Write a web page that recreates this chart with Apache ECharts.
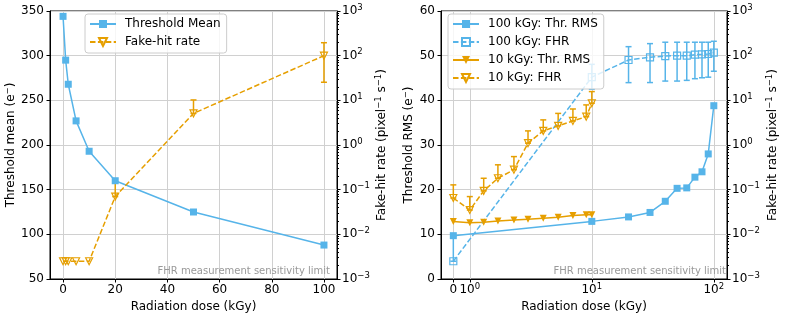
<!DOCTYPE html>
<html><head><meta charset="utf-8">
<script src="https://cdn.jsdelivr.net/npm/echarts@6/dist/echarts.min.js"></script>
<style>html,body{margin:0;padding:0;background:#fff}#c{width:785px;height:319px}</style>
</head><body><div id="c"></div>
<script>
// ---------- Left panel data ----------
const doseL      = [0, 1, 2, 5, 10, 20, 50, 100];
const thrMean    = [344, 295, 268, 227, 193, 160, 125, 88];
const fhrL       = [0.0025, 0.0025, 0.0025, 0.0025, 0.0025, 0.070, 5.1, 100];
const fhrLLo     = [null, null, null, null, null, 0.070, 5.1, 25.4];
const fhrLUp     = [null, null, null, null, null, 0.15, 10.2, 195];
const xTicksL    = [0, 20, 40, 60, 80, 100];

// ---------- Right panel data ----------
const dose100    = [0, 10, 20, 30, 40, 50, 60, 70, 80, 90, 100];
const thrRms100  = [9.7, 12.9, 13.9, 14.9, 17.4, 20.3, 20.4, 22.8, 24.0, 28.0, 38.8];
const fhr100     = [0.0025, 33, 80, 92, 98, 100, 100, 105, 107, 109, 117];
const fhr100Lo   = [0.0025, 17.7, 24.9, 25, 27, 27, 28, 30.5, 32, 33, 44.8];
const fhr100Up   = [0.0092, 64, 159, 186, 200, 200, 200, 200, 200, 200, 210];

const dose10     = [0, 1, 1.3, 1.7, 2.3, 3, 4, 5.3, 7, 9, 10];
const thrRms10   = [12.9, 12.6, 12.7, 13.0, 13.2, 13.4, 13.6, 13.8, 14.2, 14.4, 14.4];
const fhr10      = [0.065, 0.035, 0.094, 0.18, 0.28, 1.1, 2.07, 2.68, 3.46, 4.3, 8.6];
const fhr10Up    = [0.128, 0.070, 0.18, 0.36, 0.55, 2.07, 3.65, 5.1, 6.4, 7.9, 15.7];

const xTicksR    = [0, 1, 10, 100];
const xTickTextR = ['0', '10^0', '10^1', '10^2'];
const fhrLimit   = 0.0025;

// ---------- helpers ----------
const FONT = 'DejaVu Sans';
const BLUE = '#56B4E9', ORANGE = '#E69F00';
const LIN = 0.135;                    // symlog: linear part width (in decades), linthresh = 1
function symlog(d) { return d < 1 ? d * LIN : LIN + Math.log10(d); }

const minorLog = [];
for (let k = -3; k < 3; k++) for (let m = 2; m <= 9; m++) minorLog.push(k + Math.log10(m));

const rich = {
  b: {fontFamily: FONT, fontSize: 12, lineHeight: 16, color: '#000'},
  s: {fontFamily: FONT, fontSize: 8.5, lineHeight: 9, verticalAlign: 'top', color: '#000'}
};
function texLabel(t) {
  const p = t.split('^');
  return p.length > 1 ? '{b|' + p[0] + '}{s|' + p[1].replace('-', '\u2212') + '}' : '{b|' + t + '}';
}
function logLabel(v) {
  const e = Math.round(Math.log10(v));
  return texLabel('10^' + e);
}
function errSeries(data, color, xi, yi) {
  return {
    type: 'custom', xAxisIndex: xi, yAxisIndex: yi, data: data, z: 3,
    encode: {x: 0, y: [1, 2]},
    renderItem: function (params, api) {
      const x = api.value(0), lo = api.value(1), hi = api.value(2);
      const a = api.coord([x, lo]), b = api.coord([x, hi]);
      const c = 3, st = {stroke: color, lineWidth: 1.5};
      return {type: 'group', children: [
        {type: 'line', shape: {x1: a[0], y1: a[1], x2: b[0], y2: b[1]}, style: st},
        {type: 'line', shape: {x1: b[0] - c, y1: b[1], x2: b[0] + c, y2: b[1]}, style: st},
        {type: 'line', shape: {x1: a[0] - c, y1: a[1], x2: a[0] + c, y2: a[1]}, style: st}
      ]};
    }
  };
}
const axisLineBlack = {show: true, onZero: false, lineStyle: {color: '#000', width: 1}};
const tickBlack = {show: true, inside: false, length: 3.5, lineStyle: {color: '#000', width: 1}};
const gridLine = {show: true, lineStyle: {color: '#d0d0d0', width: 1}};
const hollow = c => ({color: 'rgba(255,255,255,0)', borderColor: c, borderWidth: 1.2});
const dashed = c => ({color: c, width: 1.5, type: [5.5, 2.4]});
const solid = c => ({color: c, width: 1.5});
const dotted = {color: '#808080', width: 1.5, type: [1.5, 2.5]};
const minorAxis = gi => ({type: 'value', gridIndex: gi, min: -3, max: 3, position: 'right',
  axisLine: {show: false, onZero: false}, splitLine: {show: false},
  axisLabel: {show: false, customValues: minorLog},
  axisTick: {show: true, inside: false, length: 2, customValues: minorLog, lineStyle: {color: '#000', width: 1}}});

// ---------- build data ----------
const errL = [], errR100 = [], errR10 = [];
doseL.forEach((d, i) => { if (fhrLUp[i] != null) errL.push([d, fhrLLo[i], fhrLUp[i]]); });
dose100.forEach((d, i) => errR100.push([symlog(d), fhr100Lo[i], fhr100Up[i]]));
dose10.forEach((d, i) => errR10.push([symlog(d), fhr10[i], fhr10Up[i]]));

const nameRich = {n: {fontFamily: FONT, fontSize: 12, lineHeight: 16, color: '#000'}, s: rich.s};
const legendBase = {orient: 'vertical', top: 14, itemWidth: 26, itemHeight: 10, itemGap: 4, padding: [3, 6, 4, 4],
  backgroundColor: 'rgba(255,255,255,0.8)', borderColor: '#cccccc', borderWidth: 1, borderRadius: 3,
  textStyle: {fontFamily: FONT, fontSize: 12, color: '#000', lineHeight: 14, padding: [0, 0, 0, 4]}};

const chart = echarts.init(document.getElementById('c'));
chart.setOption({
  animation: false,
  textStyle: {fontFamily: FONT},
  grid: [
    {left: 50, top: 11, width: 287, height: 268, show: true, borderColor: '#000', borderWidth: 1, containLabel: false},
    {left: 441, top: 11, width: 286, height: 268, show: true, borderColor: '#000', borderWidth: 1, containLabel: false}
  ],
  legend: [
    Object.assign({data: ['Threshold Mean', 'Fake-hit rate'], left: 85}, legendBase),
    Object.assign({data: ['100 kGy: Thr. RMS', '100 kGy: FHR', '10 kGy: Thr. RMS', '10 kGy: FHR'], left: 448}, legendBase)
  ],
  xAxis: [
    {type: 'value', gridIndex: 0, min: -5, max: 105,
     name: 'Radiation dose (kGy)', nameLocation: 'middle', nameGap: 20,
     nameTextStyle: {fontFamily: FONT, fontSize: 12, color: '#000'},
     axisLine: axisLineBlack, axisTick: Object.assign({customValues: xTicksL}, tickBlack),
     axisLabel: {customValues: xTicksL, margin: 5, fontFamily: FONT, fontSize: 12, color: '#000'},
     splitLine: gridLine},
    {type: 'value', gridIndex: 1, min: -0.101, max: 2.243,
     name: 'Radiation dose (kGy)', nameLocation: 'middle', nameGap: 20,
     nameTextStyle: {fontFamily: FONT, fontSize: 12, color: '#000'},
     axisLine: axisLineBlack, axisTick: Object.assign({customValues: xTicksR.map(symlog)}, tickBlack),
     axisLabel: {customValues: xTicksR.map(symlog), margin: 3, hideOverlap: false, rich: rich,
       formatter: v => { let i = 0, best = 1e9; xTicksR.forEach((t, k) => { const dd = Math.abs(symlog(t) - v); if (dd < best) { best = dd; i = k; } }); return texLabel(xTickTextR[i]); }},
     splitLine: gridLine}
  ],
  yAxis: [
    {type: 'value', gridIndex: 0, min: 50, max: 350, interval: 50, position: 'left',
     name: '{n|Threshold mean (e}{s|\u2212}{n|)}', nameLocation: 'middle', nameGap: 31, nameRotate: 90,
     nameTextStyle: {rich: nameRich},
     axisLine: axisLineBlack, axisTick: tickBlack,
     axisLabel: {margin: 6, fontFamily: FONT, fontSize: 12, color: '#000'}, splitLine: gridLine},
    {type: 'log', gridIndex: 0, min: 0.001, max: 1000, logBase: 10, interval: 1, position: 'right',
     name: '{n|Fake-hit rate (pixel}{s|\u22121}{n| s}{s|\u22121}{n|)}', nameLocation: 'middle', nameGap: 37, nameRotate: 90,
     nameTextStyle: {rich: nameRich},
     axisLine: axisLineBlack, axisTick: tickBlack,
     axisLabel: {margin: 5, rich: rich, formatter: logLabel}, splitLine: gridLine},
    minorAxis(0),
    {type: 'value', gridIndex: 1, min: 0, max: 60, interval: 10, position: 'left',
     name: '{n|Threshold RMS (e}{s|\u2212}{n|)}', nameLocation: 'middle', nameGap: 24, nameRotate: 90,
     nameTextStyle: {rich: nameRich},
     axisLine: axisLineBlack, axisTick: tickBlack,
     axisLabel: {margin: 6, fontFamily: FONT, fontSize: 12, color: '#000'}, splitLine: gridLine},
    {type: 'log', gridIndex: 1, min: 0.001, max: 1000, logBase: 10, interval: 1, position: 'right',
     name: '{n|Fake-hit rate (pixel}{s|\u22121}{n| s}{s|\u22121}{n|)}', nameLocation: 'middle', nameGap: 38, nameRotate: 90,
     nameTextStyle: {rich: nameRich},
     axisLine: axisLineBlack, axisTick: tickBlack,
     axisLabel: {margin: 5, rich: rich, formatter: logLabel}, splitLine: gridLine},
    minorAxis(1)
  ],
  graphic: [
    {type: 'text', right: 785 - 330, top: 266, z: 10, style: {text: 'FHR measurement sensitivity limit', fill: '#999999', font: '10px "DejaVu Sans"'}},
    {type: 'text', right: 785 - 726, top: 266, z: 10, style: {text: 'FHR measurement sensitivity limit', fill: '#999999', font: '10px "DejaVu Sans"'}}
  ],
  series: [
    // left panel
    {name: 'Threshold Mean', type: 'line', xAxisIndex: 0, yAxisIndex: 0,
     data: doseL.map((d, i) => [d, thrMean[i]]),
     symbol: 'rect', symbolSize: 7, itemStyle: {color: BLUE}, lineStyle: solid(BLUE)},
    errSeries(errL, ORANGE, 0, 1),
    {name: 'Fake-hit rate', type: 'line', xAxisIndex: 0, yAxisIndex: 1, color: ORANGE,
     data: doseL.map((d, i) => [d, fhrL[i]]),
     symbol: 'triangle', symbolRotate: 180, symbolSize: 7, itemStyle: hollow(ORANGE), lineStyle: dashed(ORANGE),
     markLine: {silent: true, symbol: 'none', label: {show: false}, lineStyle: dotted, data: [{yAxis: fhrLimit}]}},
    // right panel
    {name: '100 kGy: Thr. RMS', type: 'line', xAxisIndex: 1, yAxisIndex: 3,
     data: dose100.map((d, i) => [symlog(d), thrRms100[i]]),
     symbol: 'rect', symbolSize: 7, itemStyle: {color: BLUE}, lineStyle: solid(BLUE)},
    {name: '10 kGy: Thr. RMS', type: 'line', xAxisIndex: 1, yAxisIndex: 3,
     data: dose10.map((d, i) => [symlog(d), thrRms10[i]]),
     symbol: 'triangle', symbolRotate: 180, symbolSize: 7, itemStyle: {color: ORANGE}, lineStyle: solid(ORANGE)},
    errSeries(errR100, BLUE, 1, 4),
    {name: '100 kGy: FHR', type: 'line', xAxisIndex: 1, yAxisIndex: 4, color: BLUE,
     data: dose100.map((d, i) => [symlog(d), fhr100[i]]),
     symbol: 'rect', symbolSize: 7, itemStyle: hollow(BLUE), lineStyle: dashed(BLUE),
     markLine: {silent: true, symbol: 'none', label: {show: false}, lineStyle: dotted, data: [{yAxis: fhrLimit}]}},
    errSeries(errR10, ORANGE, 1, 4),
    {name: '10 kGy: FHR', type: 'line', xAxisIndex: 1, yAxisIndex: 4, color: ORANGE,
     data: dose10.map((d, i) => [symlog(d), fhr10[i]]),
     symbol: 'triangle', symbolRotate: 180, symbolSize: 7, itemStyle: hollow(ORANGE), lineStyle: dashed(ORANGE)}
  ]
});
</script>
</body></html>
